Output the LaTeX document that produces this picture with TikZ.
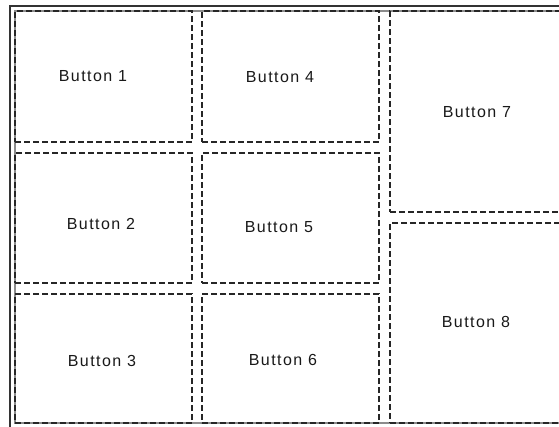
\documentclass[tikz,border=0pt]{standalone}
\usepackage{fontspec}
\setmainfont{Liberation Sans}[LetterSpace=9]
\begin{document}
\begin{tikzpicture}[x=1pt,y=-1pt,
  btnbox/.style={draw=black!85, line width=1.1pt, dash pattern=on 6pt off 3pt,
    rectangle, inner sep=0pt, outer sep=0pt},
  btnlabel/.style={font=\fontsize{16}{16}\selectfont, text=black!90, inner sep=0pt}]
\clip (0,0) rectangle (559,426);
\fill[white] (0,0) rectangle (559,426);
% outer frame
\draw[black!80, line width=1.1pt] (10,6) rectangle (620,460);
% inner frame
\draw[black!45, line width=1.1pt] (15,11) rectangle (620,423);
% button boxes
\node[btnbox, minimum width=177pt, minimum height=131pt] (b1) at (103.5,76.5) {};
\node[btnbox, minimum width=177pt, minimum height=130pt] (b2) at (103.5,218) {};
\node[btnbox, minimum width=177pt, minimum height=129pt] (b3) at (103.5,358.5) {};
\node[btnbox, minimum width=177pt, minimum height=131pt] (b4) at (290.5,76.5) {};
\node[btnbox, minimum width=177pt, minimum height=130pt] (b5) at (290.5,218) {};
\node[btnbox, minimum width=177pt, minimum height=129pt] (b6) at (290.5,358.5) {};
\node[btnbox, minimum width=210pt, minimum height=201pt] (b7) at (495,111.5) {};
\node[btnbox, minimum width=210pt, minimum height=200pt] (b8) at (495,323) {};
% labels
\node[btnlabel] (t1) at (93,76) {Button 1};
\node[btnlabel] (t2) at (101,224) {Button 2};
\node[btnlabel] (t3) at (102,361) {Button 3};
\node[btnlabel] (t4) at (280,77) {Button 4};
\node[btnlabel] (t5) at (279,227) {Button 5};
\node[btnlabel] (t6) at (283,360) {Button 6};
\node[btnlabel] (t7) at (477,112) {Button 7};
\node[btnlabel] (t8) at (476,322) {Button 8};
\end{tikzpicture}
\end{document}
